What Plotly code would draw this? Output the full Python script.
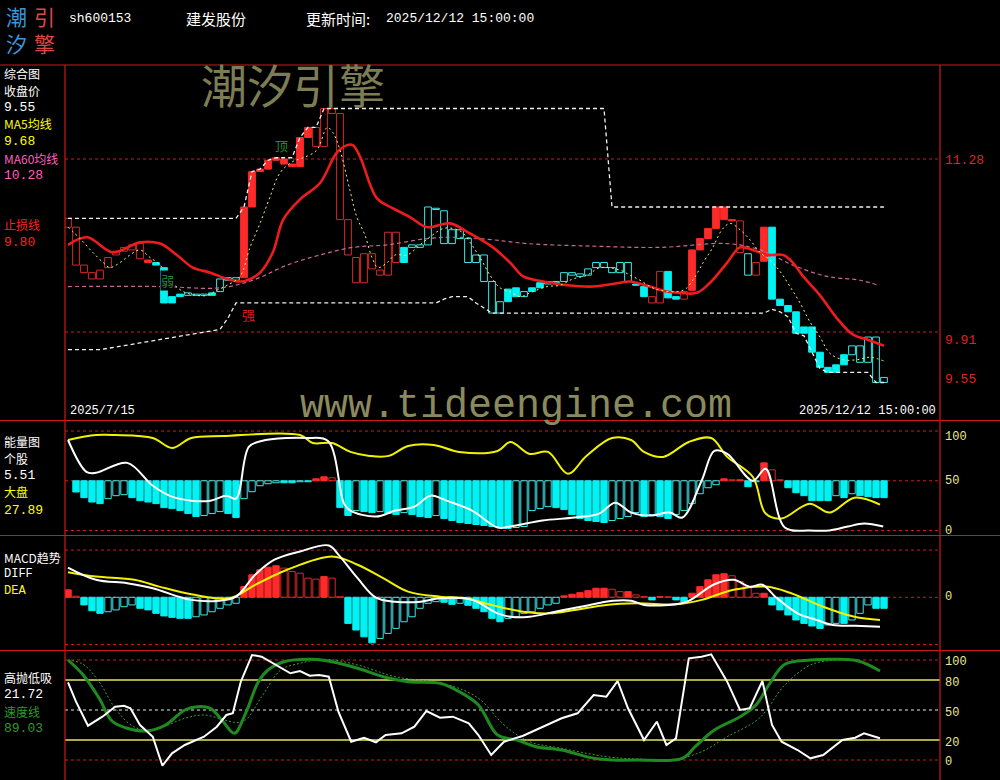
import plotly.graph_objects as go

# ---------------- header / text data ----------------
stock_code = "sh600153"
stock_name = "建发股份"
update_label = "更新时间:"
update_time = "2025/12/12 15:00:00"
first_date = "2025/7/15"

# ---------------- main panel: boxes (body top / bottom) and state ----------------
box_hi = [10.81, 10.74, 10.44, 10.38, 10.40, 10.50, 10.55, 10.58, 10.60, 10.61,
          10.48, 10.46, 10.42, 10.19, 10.21, 10.22, 10.21, 10.21, 10.22, 10.33,
          10.34, 10.34, 10.90, 11.18, 11.20, 11.27, 11.29, 11.28, 11.24, 11.45,
          11.53, 11.53, 11.68, 11.68, 11.64, 10.80, 10.50, 10.53, 10.53, 10.40,
          10.70, 10.70, 10.58, 10.60, 10.60, 10.90, 10.89, 10.87, 10.72, 10.72,
          10.65, 10.52, 10.52, 10.31, 10.15, 10.25, 10.26, 10.23, 10.26, 10.30,
          10.31, 10.31, 10.38, 10.38, 10.37, 10.41, 10.46, 10.46, 10.42, 10.46,
          10.46, 10.29, 10.27, 10.19, 10.39, 10.39, 10.19, 10.23, 10.56, 10.65,
          10.73, 10.90, 10.90, 10.80, 10.79, 10.53, 10.46, 10.74, 10.74, 10.17,
          10.12, 10.07, 9.95, 9.95, 9.75, 9.63, 9.65, 9.73, 9.80, 9.80,
          9.87, 9.87, 9.55]
box_lo = [10.74, 10.44, 10.38, 10.33, 10.33, 10.42, 10.52, 10.55, 10.56, 10.49,
          10.46, 10.44, 10.14, 10.14, 10.19, 10.20, 10.20, 10.20, 10.20, 10.23,
          10.32, 10.32, 10.34, 10.90, 11.18, 11.20, 11.27, 11.24, 11.22, 11.22,
          11.45, 11.38, 11.38, 11.64, 10.80, 10.52, 10.30, 10.30, 10.41, 10.36,
          10.36, 10.46, 10.46, 10.58, 10.58, 10.60, 10.88, 10.61, 10.61, 10.65,
          10.46, 10.46, 10.31, 10.06, 10.06, 10.15, 10.19, 10.19, 10.23, 10.26,
          10.29, 10.30, 10.31, 10.36, 10.35, 10.36, 10.42, 10.42, 10.38, 10.38,
          10.31, 10.28, 10.19, 10.14, 10.14, 10.18, 10.17, 10.17, 10.24, 10.56,
          10.65, 10.73, 10.80, 10.79, 10.54, 10.36, 10.36, 10.47, 10.17, 10.12,
          10.07, 9.90, 9.90, 9.75, 9.63, 9.59, 9.59, 9.65, 9.73, 9.67,
          9.67, 9.51, 9.51]
box_state = ["RH", "RH", "RH", "RH", "RH", "RH", "RH", "RH", "RH", "RH",
             "RF", "CF", "CF", "CF", "CF", "CH", "CH", "CH", "CF", "CH",
             "CH", "CH", "RF", "RF", "RF", "RF", "RF", "RF", "RF", "RF",
             "RF", "RH", "RH", "RH", "RH", "RH", "RH", "RH", "RH", "RH",
             "RH", "RH", "CF", "CH", "CH", "CH", "CH", "CH", "CH", "CH",
             "CH", "CH", "CH", "CH", "CH", "CF", "CF", "CH", "CF", "CF",
             "CH", "CH", "CH", "CH", "CH", "CH", "CH", "CH", "CH", "CH",
             "CH", "CF", "CF", "RH", "RH", "CF", "CF", "RH", "RF", "RF",
             "RF", "RF", "RF", "RF", "RH", "CH", "RH", "RF", "CF", "CF",
             "CF", "CF", "CF", "CF", "CF", "CF", "CF", "CF", "CH", "CH",
             "CH", "CH", "CH"]

stop_x = [0, 2.4, 5.6, 9, 11.5, 13.6, 15.6, 17.8, 19.9, 21.5, 22.4, 24, 25.6, 26.9, 29,
          31.5, 33.6, 34.9, 35.6, 36.5, 38.6, 40.6, 42.75, 44.9, 47.75, 50.25, 53.1, 55.25,
          56.9, 59.4, 62.4, 65.6, 69, 70.25, 72.75, 74.9, 76.5, 78.6, 80.25, 82.4, 84, 85.6,
          87.4, 89.4, 90.6, 91.9, 94, 96.1, 98.1, 99.9, 102]
stop_y = [10.60, 10.66, 10.54, 10.62, 10.61, 10.52, 10.42, 10.38, 10.33, 10.31, 10.32, 10.38,
          10.54, 10.80, 10.96, 11.09, 11.33, 11.39, 11.39, 11.30, 10.97, 10.89, 10.82, 10.74,
          10.77, 10.69, 10.58, 10.46, 10.35, 10.31, 10.28, 10.27, 10.30, 10.31, 10.27, 10.23,
          10.22, 10.22, 10.30, 10.46, 10.58, 10.56, 10.52, 10.52, 10.46, 10.35, 10.20, 10.02,
          9.89, 9.85, 9.80]

ma5_x = [0, 1.5, 3.1, 4.4, 5.25, 6.5, 7.75, 9, 10.25, 11.5,
         12.75, 14.4, 16.1, 17.4, 18.6, 19.9, 21.5, 22.75, 24, 25.25,
         26.5, 28.1, 29.4, 31.1, 32.4, 33.1, 34, 35.25, 36.1, 37.1,
         38, 38.75, 39.9, 40.9, 42.4, 44, 45.6, 46.9, 48.1, 49.25,
         50.25, 51.5, 52.75, 54, 55.25, 56.5, 58.1, 59.9, 61.5, 63.1,
         64.9, 66.5, 69, 70.25, 71.5, 72.75, 74, 76.9, 78.1, 79.4,
         80.6, 81.75, 82.75, 84, 85.25, 86.5, 87.75, 89, 90.25, 91.5,
         92.75, 94, 95.25, 96.9, 98.6, 100.25, 102]
ma5_y = [10.74, 10.65, 10.54, 10.46, 10.42, 10.46, 10.52, 10.56, 10.50, 10.44,
         10.32, 10.23, 10.20, 10.20, 10.24, 10.28, 10.35, 10.58, 10.77, 10.98,
         11.17, 11.26, 11.29, 11.35, 11.53, 11.49, 11.35, 11.03, 10.82, 10.68,
         10.50, 10.42, 10.46, 10.52, 10.52, 10.60, 10.68, 10.73, 10.73, 10.70,
         10.62, 10.50, 10.36, 10.26, 10.23, 10.19, 10.23, 10.27, 10.28, 10.33,
         10.36, 10.42, 10.40, 10.36, 10.32, 10.27, 10.24, 10.24, 10.32, 10.46,
         10.58, 10.72, 10.77, 10.72, 10.64, 10.54, 10.48, 10.39, 10.27, 10.14,
         9.99, 9.87, 9.74, 9.69, 9.69, 9.71, 9.68]

ma60_x = [0, 11.5, 19, 23.1, 27.4, 31.5, 35.6, 39.9, 44.9, 49, 53.1, 57.4, 65.6, 74,
          82.4, 86.5, 90.6, 94.9, 99, 101.25]
ma60_y = [10.27, 10.27, 10.26, 10.32, 10.44, 10.52, 10.58, 10.60, 10.65, 10.66, 10.64,
          10.61, 10.59, 10.58, 10.61, 10.56, 10.44, 10.35, 10.32, 10.28]

upper_x = [0, 21, 22, 23, 24, 25, 26, 28, 29, 30, 31, 32, 67, 68, 102]
upper_y = [10.81, 10.81, 10.90, 11.18, 11.20, 11.27, 11.29, 11.29, 11.45, 11.53, 11.53,
           11.68, 11.68, 10.90, 10.90]
lower_x = [0, 4, 19, 20, 21, 46, 47, 48, 50, 51, 52, 53, 87, 88, 89, 90, 91, 92, 93, 94,
           95, 100, 101, 102]
lower_y = [9.77, 9.77, 9.93, 10.02, 10.14, 10.14, 10.17, 10.19, 10.19, 10.14, 10.10, 10.06,
           10.06, 10.09, 10.07, 10.03, 9.90, 9.88, 9.75, 9.62, 9.59, 9.59, 9.51, 9.51]

key_levels = [11.28, 9.91]
last_close = 9.55
ma5_last, ma60_last, stop_last = 9.68, 10.28, 9.80

# ---------------- energy panel ----------------
energy_bar = [50, 38.7, 33, 28.6, 27, 32, 35, 36, 33, 30,
              28.6, 27, 23, 22, 20, 17, 14, 15, 17, 19,
              17, 13, 32, 39, 45, 47, 48, 48, 48, 49,
              49, 52, 54, 53, 23, 15, 20, 19, 18, 19,
              17, 16, 18, 16, 14, 13, 15, 12, 10, 8,
              7, 6, 5, 4, 3, 2, 3, 4, 20, 22,
              24, 23, 21, 16, 12, 10, 9, 8, 10, 12,
              14, 18, 14, 16, 14, 12, 16, 20, 27, 37,
              43, 46, 52, 51, 51, 44, 49, 68, 61, 51,
              43, 38, 35, 30, 30, 30, 35, 33, 37, 35,
              34, 33, 33]
stock_x = [0, 2.3, 3.5, 7.4, 10.6, 13, 15.4, 17.8, 19.8, 21, 22.6, 24.2, 27.4, 29.8, 32.5,
           34.5, 35.3, 38.5, 40.9, 43.3, 45.3, 47.3, 50.5, 53.7, 55.3, 59.3, 63.3, 66.4,
           68.4, 70.4, 72.8, 75.2, 76.8, 79.2, 80.8, 82.4, 85.6, 87.2, 89.6, 92.7, 95.2,
           97.5, 99.5, 101.9]
stock_y = [91, 59, 58, 68, 45, 34, 30, 30, 35, 32, 84, 90, 93, 93, 90,
           27, 20, 14, 20, 24, 35, 30, 20, 3, 4, 10, 13, 17,
           28, 18, 15, 18, 13, 50, 80, 77, 50, 62, 3, 0, 0,
           4, 7, 4]
market_x = [0, 3.5, 5.9, 10.6, 13, 15.4, 19.4, 29, 30.6, 33, 35.3, 37.7, 40.1, 42.5, 45.7,
            48.9, 53.7, 55.3, 57.7, 60, 62.5, 64.8, 68, 70.4, 72, 74.4, 77.6, 80.4, 82.4,
            85.6, 87.2, 89.2, 92.7, 95.2, 98.3, 101.5]
market_y = [91, 96, 96, 93, 83, 93, 95, 96, 88, 88, 79, 75, 75, 85, 86,
            79, 80, 89, 77, 79, 57, 75, 93, 91, 79, 74, 89, 93, 74,
            54, 17, 12, 27, 18, 33, 26]
stock_last, market_last = 5.51, 27.89

# ---------------- MACD panel ----------------
macd_bar = [0.037, 0.005, -0.038, -0.067, -0.080, -0.072, -0.063, -0.047, -0.038, -0.055,
            -0.063, -0.080, -0.093, -0.100, -0.105, -0.105, -0.097, -0.088, -0.072, -0.055,
            -0.038, -0.030, 0.053, 0.112, 0.137, 0.150, 0.157, 0.145, 0.128, 0.120,
            0.095, 0.090, 0.103, 0.095, 0.003, -0.130, -0.163, -0.197, -0.227, -0.205,
            -0.180, -0.155, -0.122, -0.097, -0.055, -0.030, -0.022, -0.025, -0.035, -0.030,
            -0.040, -0.055, -0.072, -0.105, -0.122, -0.105, -0.097, -0.080, -0.072, -0.055,
            -0.038, -0.030, 0.007, 0.015, 0.023, 0.033, 0.045, 0.045, 0.040, 0.028,
            0.028, 0.012, 0.003, -0.013, 0.003, 0.002, -0.013, -0.022, 0.020, 0.053,
            0.087, 0.112, 0.117, 0.107, 0.078, 0.053, 0.020, 0.020, -0.038, -0.063,
            -0.088, -0.113, -0.130, -0.143, -0.155, -0.138, -0.130, -0.130, -0.113, -0.080,
            -0.038, -0.055, -0.055]
diff_x = [0, 3.5, 7.4, 10.6, 13.8, 15.4, 18.6, 21, 23.4, 25.8, 29, 32.6, 33.8, 36.2, 38.5,
          40.9, 44.1, 46.5, 50.5, 53.7, 55.3, 57.7, 60.9, 64.1, 68.1, 70.4, 72, 76, 77.6,
          80.8, 83.2, 85.2, 86.8, 88.4, 91.2, 93.6, 95.6, 98.4, 101.5]
diff_y = [0.148, 0.087, 0.070, 0.045, 0.003, -0.013, -0.018, 0.003, 0.112, 0.187, 0.228,
          0.258, 0.212, 0.095, -0.002, -0.022, -0.022, -0.005, -0.013, -0.080, -0.097,
          -0.097, -0.072, -0.047, -0.017, -0.017, -0.038, -0.035, -0.018, 0.065, 0.087,
          0.053, 0.062, 0.003, -0.080, -0.113, -0.138, -0.142, -0.147]
dea_x = [0, 3.5, 8.3, 11.4, 15.4, 20.2, 23.4, 27.4, 33, 36.2, 39.4, 42.5, 46.5, 49.7, 52.9,
         56.9, 60.1, 63.3, 67.3, 71.2, 76, 79.2, 83.2, 87.2, 90.4, 94.4, 98.3, 101.5]
dea_y = [0.125, 0.103, 0.087, 0.053, 0.015, -0.005, 0.062, 0.137, 0.203, 0.162, 0.095,
         0.028, 0.003, -0.005, -0.038, -0.072, -0.080, -0.063, -0.038, -0.030, -0.035,
         -0.013, 0.037, 0.053, 0.020, -0.047, -0.097, -0.113]
macd_band = 0.235

# ---------------- 高抛低吸 panel ----------------
swing_x = [0, 1, 2.5, 4.3, 5.9, 7, 7.8, 9, 10.6, 11.8, 13, 14.6, 17, 18.6, 19.8, 20.6, 21.6,
           23, 24.2, 26.6, 27.8, 29, 30.2, 31.4, 32.6, 33.8, 35.4, 37, 38.5, 39.7, 41.7,
           43.3, 44.8, 46.5, 48.1, 50.1, 51.3, 52.9, 54.5, 56.9, 59.3, 61.7, 63.7, 65.7,
           67.3, 68.7, 70, 72, 73.6, 74.8, 76, 77.6, 79.2, 80.4, 82.4, 84, 85.2, 86.8, 88,
           89.2, 91.2, 92.8, 94.4, 96.8, 98.4, 99.5, 101.5]
swing_y = [77.7, 58.3, 34.3, 43.3, 53.3, 54.3, 51.7, 35, 23.3, -5.7, 6.7, 15, 23.3, 33.3,
           45, 46.7, 78.3, 105, 103.3, 91.7, 86.7, 89, 84.3, 85, 83.3, 48.3, 18.3, 22.3,
           17.7, 25, 26.7, 33.3, 49, 42.3, 43.3, 36.7, 25, 5, 18.3, 24.3, 33.3, 41.7, 46.7,
           65, 63.3, 79, 51.7, 20, 38.3, 15, 21.7, 101.7, 103.3, 105.7, 78.3, 50, 51.7, 79,
           35, 18.3, 10, 1.7, 5, 20, 22.3, 26.7, 21.7]
speed_x = [0, 1.9, 3.9, 5.5, 7.4, 9.8, 12.2, 14.6, 16.2, 17.8, 19.4, 20.8, 22.2, 23.8, 25,
           27, 30.6, 33, 36.2, 39.4, 42.5, 46.5, 48.9, 51.3, 53.7, 56.1, 58.5, 61.7, 65.7,
           68.1, 71.2, 76.8, 78.4, 80.8, 84, 86, 87.6, 89.6, 92.8, 95.9, 98.8, 101.5]
speed_y = [100, 85, 61.7, 39, 31.7, 29, 35, 50, 53.3, 51.7, 38.3, 26.7, 46.7, 78.3, 90,
           98.3, 100.7, 98.3, 91.7, 83.3, 78.3, 76.7, 68.3, 55, 25, 20, 13.3, 10, 1.7,
           0, 0, 1.7, 13.3, 30, 43.3, 55, 75, 95.7, 100, 100.7, 99, 89]
speed_ma_x = [0, 1.9, 3.9, 5.9, 8.2, 10.6, 14.6, 17, 21.8, 24.2, 26.6, 29, 32.2, 36.2, 40.9,
              47.3, 51.3, 54.5, 57.7, 61.7, 67.3, 71.2, 76, 79.2, 82.4, 86.4, 89.6, 92.8,
              95.9, 99.2]
speed_ma_y = [100, 95.7, 78, 51.7, 33.3, 30, 41.7, 45, 38.3, 63.3, 90, 96.7, 100.7, 95,
              83.3, 75.7, 61.7, 35, 18.3, 11.7, 3.3, 1, 1, 8.3, 23.3, 41.7, 75, 95, 100, 99]
swing_last, speed_last = 21.72, 89.03
swing_levels = [100, 80, 50, 20, 0]

# ================= figure =================
W, H = 1000, 780
L, R, T = 65, 60, 65
PW, PH = W - L - R, H - T


def px(x):
    return (x - L) / PW


def py(y):
    return (H - y) / PH


CJK = "Noto Sans CJK SC"
MONO = "Liberation Mono"
RED = "#ff2a2a"
RED_H = "#d42a2a"
CYAN = "#00f2f2"
CYAN_H = "#3fe6e6"
N = len(box_hi)
XR = [-0.375, 109]

fig = go.Figure()

# -------- main panel boxes --------
styles = {"RF": (RED, RED), "RH": ("rgba(0,0,0,0)", RED_H),
          "CF": (CYAN, CYAN), "CH": ("rgba(0,0,0,0)", CYAN_H)}
for st, (fc, lc) in styles.items():
    ids = [i for i in range(N) if box_state[i] == st]
    fig.add_trace(go.Bar(x=ids, base=[box_lo[i] for i in ids],
                         y=[box_hi[i] - box_lo[i] for i in ids], width=0.84,
                         marker=dict(color=fc, line=dict(color=lc, width=1)),
                         xaxis="x", yaxis="y"))

fig.add_trace(go.Scatter(x=upper_x, y=upper_y, mode="lines",
                         line=dict(color="#f0f0f0", width=1.3, dash="4px,3px"),
                         xaxis="x", yaxis="y"))
fig.add_trace(go.Scatter(x=lower_x, y=lower_y, mode="lines",
                         line=dict(color="#f0f0f0", width=1.3, dash="4px,3px"),
                         xaxis="x", yaxis="y"))
fig.add_trace(go.Scatter(x=ma60_x, y=ma60_y, mode="lines", line_shape="spline",
                         line=dict(color="#c8679a", width=1.2, dash="4px,3px"),
                         xaxis="x", yaxis="y"))
fig.add_trace(go.Scatter(x=stop_x, y=stop_y, mode="lines", line_shape="spline",
                         line=dict(color="#ee1c1c", width=2.6), xaxis="x", yaxis="y"))
fig.add_trace(go.Scatter(x=ma5_x, y=ma5_y, mode="lines", line_shape="spline",
                         line=dict(color="#f5f56a", width=1, dash="2px,3px"),
                         xaxis="x", yaxis="y"))


# -------- energy panel --------
def bar_groups(vals, base):
    groups = {"RF": [], "RH": [], "CF": [], "CH": []}
    for i, v in enumerate(vals):
        if v == base:
            continue
        prev = vals[i - 1] if i > 0 else base
        up = v > base
        shrink = (prev - base) * (v - base) > 0 and abs(v - base) < abs(prev - base)
        key = ("R" if up else "C") + ("H" if shrink else "F")
        groups[key].append(i)
    return groups


for key, ids in bar_groups(energy_bar, 50).items():
    fc, lc = styles[key]
    fig.add_trace(go.Bar(x=ids, base=[50] * len(ids), y=[energy_bar[i] - 50 for i in ids],
                         width=0.8, marker=dict(color=fc, line=dict(color=lc, width=1)),
                         xaxis="x2", yaxis="y2"))
fig.add_trace(go.Scatter(x=market_x, y=market_y, mode="lines", line_shape="spline",
                         line=dict(color="#f2f200", width=2), xaxis="x2", yaxis="y2"))
fig.add_trace(go.Scatter(x=stock_x, y=stock_y, mode="lines", line_shape="spline",
                         line=dict(color="#ffffff", width=2), xaxis="x2", yaxis="y2"))

# -------- MACD panel --------
for key, ids in bar_groups(macd_bar, 0).items():
    fc, lc = styles[key]
    fig.add_trace(go.Bar(x=ids, base=[0] * len(ids), y=[macd_bar[i] for i in ids],
                         width=0.8, marker=dict(color=fc, line=dict(color=lc, width=1)),
                         xaxis="x3", yaxis="y3"))
fig.add_trace(go.Scatter(x=dea_x, y=dea_y, mode="lines", line_shape="spline",
                         line=dict(color="#f2f200", width=2), xaxis="x3", yaxis="y3"))
fig.add_trace(go.Scatter(x=diff_x, y=diff_y, mode="lines", line_shape="spline",
                         line=dict(color="#ffffff", width=2), xaxis="x3", yaxis="y3"))

# -------- 高抛低吸 panel --------
fig.add_trace(go.Scatter(x=speed_ma_x, y=speed_ma_y, mode="lines", line_shape="spline",
                         line=dict(color="#3aa03a", width=1, dash="2px,2px"),
                         xaxis="x4", yaxis="y4"))
fig.add_trace(go.Scatter(x=speed_x, y=speed_y, mode="lines", line_shape="spline",
                         line=dict(color="#1f8a1f", width=3), xaxis="x4", yaxis="y4"))
fig.add_trace(go.Scatter(x=swing_x, y=swing_y, mode="lines",
                         line=dict(color="#ffffff", width=2), xaxis="x4", yaxis="y4"))

# -------- axes --------
doms = {"": [py(420), py(65)], "2": [py(535.5), py(421)],
        "3": [py(650.5), py(536)], "4": [0, py(651)]}
yr = {"": [9.213, 12.0245], "2": [-5.05, 110.1], "3": [-0.265, 0.305], "4": [-20, 109]}
lay = {}
for k in ["", "2", "3", "4"]:
    lay["xaxis" + k] = dict(range=XR, visible=False, fixedrange=True,
                            anchor="y" + k, domain=[0, 1])
    lay["yaxis" + k] = dict(range=yr[k], domain=doms[k], visible=False,
                            anchor="x" + k, fixedrange=True)

shapes = []


def hline(yref, val, color, dash, width=1):
    shapes.append(dict(type="line", xref="paper", yref=yref, x0=0, x1=1, y0=val, y1=val,
                       line=dict(color=color, width=width, dash=dash), layer="below"))


for lv in key_levels:
    hline("y", lv, "#c81e1e", "3px,3px")
for lv in [100, 50, 0]:
    hline("y2", lv, "#c81e1e", "3px,3px")
for lv in [macd_band, 0, -macd_band]:
    hline("y3", lv, "#c81e1e", "3px,3px")
hline("y4", swing_levels[0], "#c81e1e", "3px,3px")
hline("y4", swing_levels[4], "#c81e1e", "3px,3px")
hline("y4", swing_levels[2], "#e8e8e8", "3px,3px")
hline("y4", swing_levels[1], "#e6e65a", "solid", 1.3)
hline("y4", swing_levels[3], "#e6e65a", "solid", 1.3)

# frame lines (pixel positions)
for yy in [65, 420.5, 535.5, 650.5]:
    shapes.append(dict(type="line", xref="paper", yref="paper", x0=px(0), x1=px(1000),
                       y0=py(yy), y1=py(yy), line=dict(color="#d01818", width=1.2)))
for xx in [65, 940]:
    shapes.append(dict(type="line", xref="paper", yref="paper", x0=px(xx), x1=px(xx),
                       y0=py(65), y1=py(780), line=dict(color="#d01818", width=1.2)))

ann = []


def txt(x, y, s, color, size, family=CJK, anchor="left", bg=None):
    d = dict(xref="paper", yref="paper", x=px(x), y=py(y), text=s, showarrow=False,
             xanchor=anchor, yanchor="middle",
             font=dict(color=color, size=size, family=family))
    if bg:
        d["bgcolor"] = bg
        d["borderpad"] = 0
    ann.append(d)


# header logo (two columns)
txt(4, 29, "潮<br>汐", "#3b95d6", 21)
txt(32, 29, "引<br>擎", "#de4848", 21)
txt(67, 18, stock_code, "#ffffff", 13, MONO)
txt(184, 18, stock_name, "#ffffff", 15)
txt(304, 18, update_label, "#ffffff", 15)
txt(384, 18, update_time, "#ffffff", 13, MONO)

# watermarks
txt(199, 83, "潮汐引擎", "#7d7d55", 46)
txt(298, 406, "www.tideengine.com", "#8a8a5c", 40, MONO)

# main panel left labels
txt(2, 73, "综合图", "#ffffff", 12)
txt(2, 90, "收盘价", "#ffffff", 12)
txt(2, 107, f"{last_close:.2f}", "#ffffff", 13, MONO)
txt(2, 124, "MA5均线", "#ffff00", 12)
txt(2, 141, f"{ma5_last:.2f}", "#ffff00", 13, MONO)
txt(2, 158, "MA60均线", "#ff5fbf", 12)
txt(2, 175, f"{ma60_last:.2f}", "#ff5fbf", 13, MONO)
txt(2, 225, "止损线", "#ff2020", 12)
txt(2, 242, f"{stop_last:.2f}", "#ff2020", 13, MONO)
# right price labels
txt(943, 160, f"{key_levels[0]:.2f}", "#e02020", 13, MONO)
txt(943, 340, f"{key_levels[1]:.2f}", "#e02020", 13, MONO)
txt(943, 379, f"{last_close:.2f}", "#e02020", 13, MONO)
# dates
txt(68, 411, first_date, "#ffffff", 12, MONO)
txt(938, 411, update_time, "#ffffff", 12, MONO, anchor="right")
# markers
txt(273, 145, "顶", "#1f8f2a", 13)
txt(240, 314, "强", "#e01818", 13)
txt(160, 280, "弱", "#1f8f2a", 13, bg="#000000")

# energy
txt(2, 441, "能量图", "#ffffff", 12)
txt(2, 458, "个股", "#ffffff", 12)
txt(2, 475, f"{stock_last:.2f}", "#ffffff", 13, MONO)
txt(2, 492, "大盘", "#ffff00", 12)
txt(2, 510, f"{market_last:.2f}", "#ffff00", 13, MONO)
txt(943, 437, "100", "#e8e890", 12, MONO)
txt(943, 481, "50", "#e8e890", 12, MONO)
txt(943, 531, "0", "#e8e890", 12, MONO)

# macd
txt(2, 557, "MACD趋势", "#ffffff", 12)
txt(2, 574, "DIFF", "#ffffff", 12, MONO)
txt(2, 591, "DEA", "#ffff00", 12, MONO)
txt(943, 597, "0", "#e8e890", 12, MONO)

# 高抛低吸
txt(2, 677, "高抛低吸", "#ffffff", 12)
txt(2, 694, f"{swing_last:.2f}", "#ffffff", 13, MONO)
txt(2, 711, "速度线", "#2e9a2e", 12)
txt(2, 728, f"{speed_last:.2f}", "#2e9a2e", 13, MONO)
for lv, yy in zip(swing_levels, [662, 683, 713, 743, 762]):
    txt(943, yy, str(lv), "#e8e890", 12, MONO)

fig.update_layout(width=W, height=H, margin=dict(l=L, r=R, t=T, b=0),
                  paper_bgcolor="#000000", plot_bgcolor="#000000",
                  showlegend=False, barmode="overlay", hovermode=False,
                  shapes=shapes, annotations=ann, **lay)

fig.write_html("out.html", config={"displayModeBar": False},
               post_script="document.body.style.margin='0px';"
                           "document.body.style.background='#000000';")
